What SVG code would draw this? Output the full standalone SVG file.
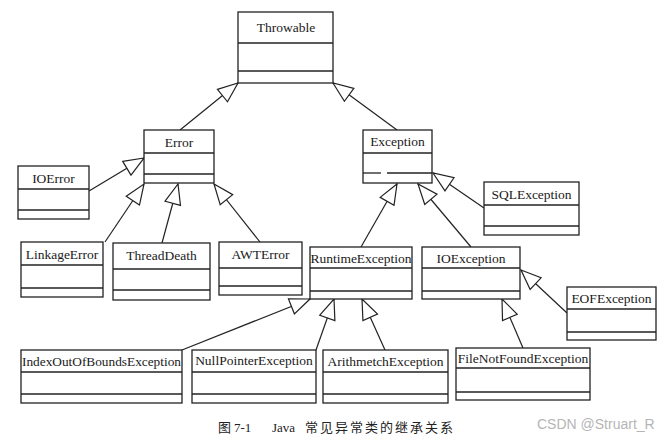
<svg xmlns="http://www.w3.org/2000/svg" width="669" height="440" viewBox="0 0 669 440">
<defs>
<marker id="tri" markerUnits="userSpaceOnUse" markerWidth="24" markerHeight="20" refX="20" refY="8" orient="auto" viewBox="-2 -2 24 20">
<path d="M0,0 L20,8 L0,16 Z" fill="#fff" stroke="#222" stroke-width="1.2" stroke-linejoin="miter"/>
</marker>
</defs>
<style>
.box rect{fill:#fff;stroke:#222;stroke-width:1.3}
.box line{stroke:#222;stroke-width:1.3}
.box text{font-family:"Liberation Serif","Times New Roman",serif;font-size:13.5px;fill:#1a1a1a;text-anchor:middle}
#connectors line{stroke:#222;stroke-width:1.2;marker-end:url(#tri)}
.cap{font-family:"Liberation Serif","Noto Sans CJK SC",serif;font-size:13px;fill:#222}
.wm{font-family:"Liberation Sans",Arial,sans-serif;font-size:14px;fill:#b5b5b5}
</style>
<rect width="669" height="440" fill="#fff"/>
<g id="connectors">
<line x1="180" y1="130" x2="238" y2="83"/>
<line x1="397" y1="130" x2="333" y2="83"/>
<line x1="89" y1="191" x2="144" y2="158"/>
<line x1="105" y1="242" x2="144" y2="184"/>
<line x1="162" y1="243" x2="178" y2="184"/>
<line x1="260" y1="242" x2="214" y2="184"/>
<line x1="484" y1="208" x2="433" y2="173"/>
<line x1="361" y1="247" x2="397" y2="184"/>
<line x1="471" y1="247" x2="418" y2="184"/>
<line x1="567" y1="313" x2="521" y2="270"/>
<line x1="182" y1="350" x2="310" y2="299"/>
<line x1="316" y1="350" x2="334" y2="299"/>
<line x1="385" y1="350" x2="362" y2="299"/>
<line x1="523" y1="348" x2="502" y2="299"/>
</g>
<g id="throwable" class="box">
<rect x="238" y="12" width="95" height="71"/>
<line x1="238" y1="43" x2="333" y2="43"/><line x1="238" y1="71" x2="333" y2="71"/>
<text x="286" y="32">Throwable</text>
</g>
<g id="error" class="box">
<rect x="144" y="130" width="70" height="53"/>
<line x1="144" y1="153" x2="214" y2="153"/><line x1="144" y1="174" x2="214" y2="174"/>
<text x="179" y="147">Error</text>
</g>
<g id="exception" class="box">
<rect x="363" y="130" width="69" height="53"/>
<line x1="363" y1="153" x2="432" y2="153"/><line x1="363" y1="173" x2="381" y2="173"/><line x1="387" y1="173" x2="432" y2="173"/>
<text x="397.5" y="146">Exception</text>
</g>
<g id="ioerror" class="box">
<rect x="18" y="166" width="71" height="53"/>
<line x1="18" y1="189" x2="89" y2="189"/><line x1="18" y1="210" x2="89" y2="210"/>
<text x="53.5" y="183">IOError</text>
</g>
<g id="sqlexception" class="box">
<rect x="484" y="182" width="95" height="53"/>
<line x1="484" y1="205" x2="579" y2="205"/><line x1="484" y1="226" x2="579" y2="226"/>
<text x="531.5" y="199">SQLException</text>
</g>
<g id="linkageerror" class="box">
<rect x="21" y="242" width="82" height="55"/>
<line x1="21" y1="265" x2="103" y2="265"/><line x1="21" y1="288" x2="103" y2="288"/>
<text x="62" y="259">LinkageError</text>
</g>
<g id="threaddeath" class="box">
<rect x="113" y="243" width="97" height="57"/>
<line x1="113" y1="269" x2="210" y2="269"/><line x1="113" y1="290" x2="210" y2="290"/>
<text x="161.5" y="260">ThreadDeath</text>
</g>
<g id="awterror" class="box">
<rect x="219" y="242" width="83" height="53"/>
<line x1="219" y1="268" x2="302" y2="268"/><line x1="219" y1="286" x2="302" y2="286"/>
<text x="260.5" y="259">AWTError</text>
</g>
<g id="runtimeexception" class="box">
<rect x="310" y="247" width="102" height="52"/>
<line x1="310" y1="268" x2="412" y2="268"/><line x1="310" y1="291" x2="412" y2="291"/>
<text x="361" y="263">RuntimeException</text>
</g>
<g id="ioexception" class="box">
<rect x="422" y="247" width="98" height="52"/>
<line x1="422" y1="268" x2="520" y2="268"/><line x1="422" y1="291" x2="520" y2="291"/>
<text x="471" y="263">IOException</text>
</g>
<g id="eofexception" class="box">
<rect x="567" y="287" width="89" height="53"/>
<line x1="567" y1="309" x2="656" y2="309"/><line x1="567" y1="332" x2="656" y2="332"/>
<text x="611.5" y="303">EOFException</text>
</g>
<g id="indexoutofbounds" class="box">
<rect x="21" y="350" width="161" height="53"/>
<line x1="21" y1="372" x2="182" y2="372"/><line x1="21" y1="394" x2="182" y2="394"/>
<text x="101.5" y="366" textLength="159" lengthAdjust="spacingAndGlyphs">IndexOutOfBoundsException</text>
</g>
<g id="nullpointer" class="box">
<rect x="192" y="350" width="124" height="53"/>
<line x1="192" y1="372" x2="316" y2="372"/><line x1="192" y1="394" x2="316" y2="394"/>
<text x="254" y="365">NullPointerException</text>
</g>
<g id="arithmetch" class="box">
<rect x="323" y="350" width="125" height="53"/>
<line x1="323" y1="372" x2="448" y2="372"/><line x1="323" y1="394" x2="448" y2="394"/>
<text x="385.5" y="366">ArithmetchException</text>
</g>
<g id="filenotfound" class="box">
<rect x="456" y="348" width="134" height="52"/>
<line x1="456" y1="368" x2="590" y2="368"/><line x1="456" y1="392" x2="590" y2="392"/>
<text x="523" y="363">FileNotFoundException</text>
</g>
<text class="cap" y="432"><tspan x="218">图</tspan><tspan x="234">7-1</tspan><tspan x="272">Java</tspan><tspan x="305" letter-spacing="2">常见异常类的继承关系</tspan></text>
<text class="wm" x="537" y="429">CSDN @Struart_R</text>
</svg>
